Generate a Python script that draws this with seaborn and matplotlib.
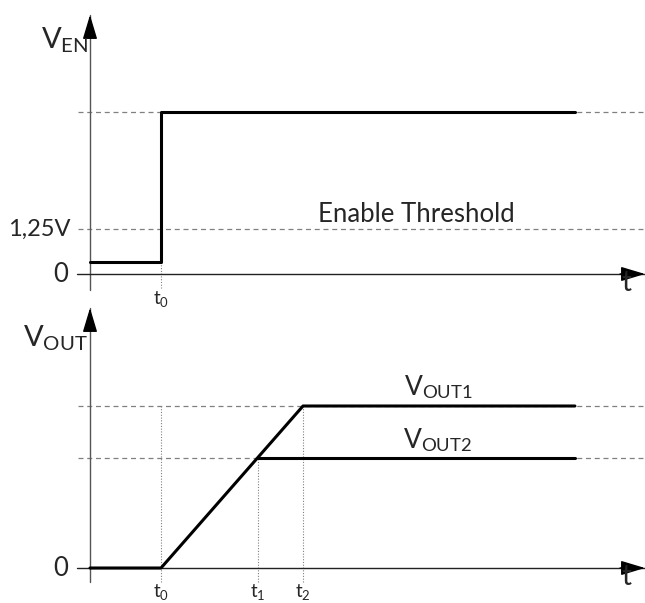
import matplotlib
matplotlib.use("Agg")
import matplotlib.pyplot as plt
import seaborn as sns
import pandas as pd

sns.set_theme(style="white")
plt.rcParams['font.family'] = ['Lato', 'DejaVu Sans']
plt.rcParams['mathtext.fontset'] = 'custom'
plt.rcParams['mathtext.rm'] = 'Lato'
plt.rcParams['mathtext.it'] = 'Lato:italic'

# ---- data ----
t_marks = [1.0, 2.36, 3.0]          # t0, t1, t2
t_end = 6.83
ven_t = [0.0, 1.0, 1.0, t_end]
ven_v = [0.33, 0.33, 4.5, 4.5]
ven_threshold = 1.25
ven_high = 4.5
vout1_t = [0.0, 1.0, 3.0, t_end]
vout1_v = [0.0, 0.0, 3.3, 3.3]
vout2_t = [2.36, t_end]
vout2_v = [2.25, 2.25]
tick_labels_top = ["0", "1,25V"]

W, H = 645, 603
fig = plt.figure(figsize=(W/100, H/100), dpi=100)

# pixel mapping helpers (layout only)
x0px, xs = 90, 71.0
def xlim_from(px_left, px_right):
    return ((px_left - x0px)/xs, (px_right - x0px)/xs)

# top axes: py = 274 - 36 v
ax1 = fig.add_axes([0, 1-300/H, 1, 300/H])
y0a, ysa = 274, 36.0
ax1.set_xlim(*xlim_from(0, W))
ax1.set_ylim((y0a-300)/ysa, y0a/ysa)
# bottom axes: py = 568 - 49.09 v
ax2 = fig.add_axes([0, 0, 1, 303/H])
y0b, ysb = 568, 162/3.3
ax2.set_xlim(*xlim_from(0, W))
ax2.set_ylim((y0b-603)/ysb, (y0b-300)/ysb)
for ax in (ax1, ax2):
    ax.axis('off')

ax_col = '#555555'
dash_col = '#808080'
dot_col = '#808080'
xl, xr = (77-x0px)/xs, (645-x0px)/xs
dl = (78-x0px)/xs
px2t = lambda px: (px - x0px)/xs

def axes_arrows(ax, y0, ys, tip_py, bot_py, base_py):
    v = lambda py: (y0 - py)/ys
    ax.plot([0, 0], [v(bot_py), v(tip_py)], color=ax_col, lw=1.0, zorder=2)
    ax.plot([xl, xr], [0, 0], color='#222222', lw=1.0, zorder=2)
    ax.annotate("", xy=(0, v(tip_py)), xytext=(0, v(base_py)),
                arrowprops=dict(arrowstyle="-|>,head_length=1.5,head_width=0.45",
                                color='black', lw=1, shrinkA=0, shrinkB=0,
                                mutation_scale=10))
    ax.annotate("", xy=(xr, 0), xytext=(px2t(620), 0),
                arrowprops=dict(arrowstyle="-|>,head_length=1.5,head_width=0.45",
                                color='black', lw=1, shrinkA=0, shrinkB=0,
                                mutation_scale=10))

FS = 18.5
# ---- top panel ----
axes_arrows(ax1, y0a, ysa, 15, 290, 36)
for lvl in [ven_high, ven_threshold]:
    ax1.plot([dl, xr], [lvl, lvl], color=dash_col, lw=0.9, ls=(0, (4, 3)), zorder=1)
ax1.plot([t_marks[0]]*2, [ven_v[0], (y0a-288)/ysa], color=dot_col, lw=0.8, ls=(0, (1, 1.5)), zorder=1)
sns.lineplot(x=ven_t, y=ven_v, ax=ax1, color='black', lw=2.2, sort=False,
             estimator=None, legend=False, zorder=3)
ax1.text(px2t(68), 0, tick_labels_top[0], ha='right', va='center', fontsize=FS)
ax1.text(px2t(71), ven_threshold, tick_labels_top[1], ha='right', va='center', fontsize=17)
ax1.text(px2t(416), (y0a-214)/ysa, "Enable Threshold", ha='center', va='center', fontsize=FS)
ax1.text(px2t(89), (y0a-40)/ysa, r"$\mathrm{V}_{\mathrm{EN}}$", ha='right', va='center', fontsize=21)
ax1.text(t_marks[0], (y0a-299)/ysa, r"$\mathrm{t}_{0}$", ha='center', va='center', fontsize=13.5)
ax1.text(px2t(626), (y0a-283)/ysa, "t", ha='center', va='center', fontsize=20)

# ---- bottom panel ----
axes_arrows(ax2, y0b, ysb, 308, 582, 330)
for lvl in [vout1_v[-1], vout2_v[-1]]:
    ax2.plot([dl, xr], [lvl, lvl], color=dash_col, lw=0.9, ls=(0, (4, 3)), zorder=1)
vbot = (y0b-582)/ysb
ax2.plot([t_marks[0]]*2, [vbot, vout1_v[-1]], color=dot_col, lw=0.8, ls=(0, (1, 1.5)), zorder=1)
ax2.plot([t_marks[1]]*2, [vbot, vout2_v[-1]], color=dot_col, lw=0.8, ls=(0, (1, 1.5)), zorder=1)
ax2.plot([t_marks[2]]*2, [vbot, vout1_v[-1]], color=dot_col, lw=0.8, ls=(0, (1, 1.5)), zorder=1)
sns.lineplot(x=vout1_t, y=vout1_v, ax=ax2, color='black', lw=2.2, sort=False,
             estimator=None, legend=False, zorder=3)
sns.lineplot(x=vout2_t, y=vout2_v, ax=ax2, color='black', lw=2.2, sort=False,
             estimator=None, legend=False, zorder=3)
ax2.text(px2t(68), 0, "0", ha='right', va='center', fontsize=FS)
ax2.text(px2t(88), (y0b-338)/ysb, r"$\mathrm{V}_{\mathrm{OUT}}$", ha='right', va='center', fontsize=21)
ax2.text(px2t(438), (y0b-387)/ysb, r"$\mathrm{V}_{\mathrm{OUT1}}$", ha='center', va='center', fontsize=19)
ax2.text(px2t(438), (y0b-440)/ysb, r"$\mathrm{V}_{\mathrm{OUT2}}$", ha='center', va='center', fontsize=19)
for i, tm in enumerate(t_marks):
    ax2.text(tm, (y0b-592)/ysb, r"$\mathrm{t}_{%d}$" % i, ha='center', va='center', fontsize=13.5)
ax2.text(px2t(626), (y0b-577)/ysb, "t", ha='center', va='center', fontsize=20)

fig.savefig("out.png", dpi=100, facecolor='white')
